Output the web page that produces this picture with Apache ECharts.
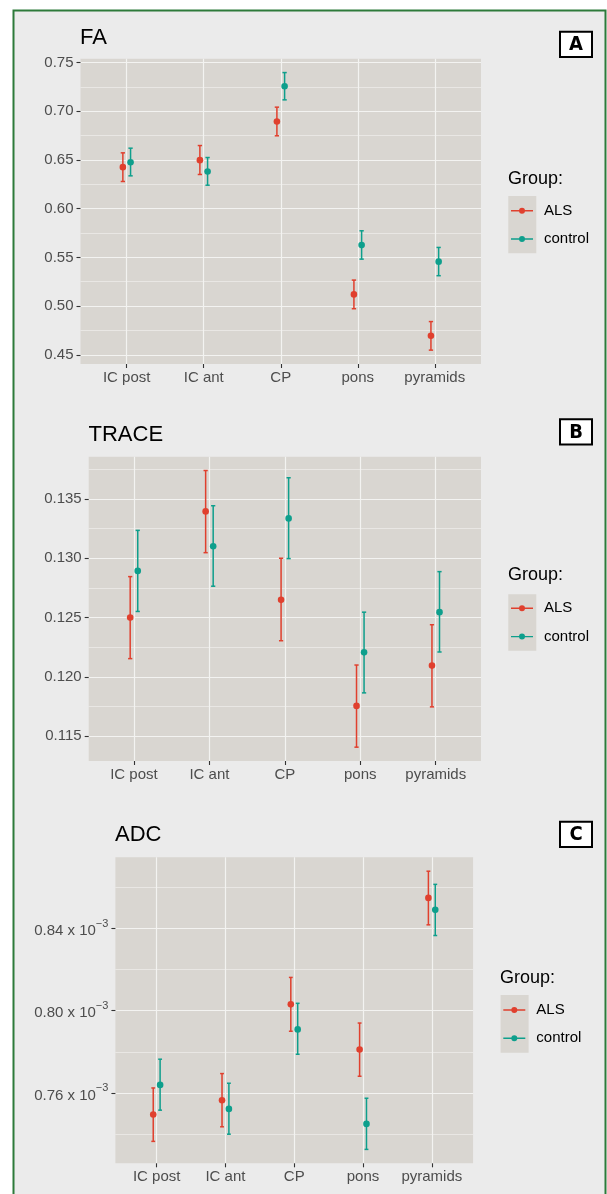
<!DOCTYPE html>
<html><head><meta charset="utf-8">
<script src="https://cdn.jsdelivr.net/npm/echarts@6/dist/echarts.min.js"></script>
<style>html,body{margin:0;padding:0;background:#fff}#c{width:607px;height:1194px}</style>
</head><body><div id="c"></div>
<script>
// ---------- data ----------
const categories = ['IC post', 'IC ant', 'CP', 'pons', 'pyramids'];
const groups = ['ALS', 'control'];

// FA
const faAlsMean  = [0.6426, 0.6498, 0.6895, 0.5120, 0.4695];
const faAlsLow   = [0.6279, 0.6351, 0.6748, 0.4973, 0.4548];
const faAlsHigh  = [0.6573, 0.6648, 0.7042, 0.5267, 0.4841];
const faCtlMean  = [0.6477, 0.6382, 0.7257, 0.5626, 0.5456];
const faCtlLow   = [0.6337, 0.6241, 0.7117, 0.5482, 0.5312];
const faCtlHigh  = [0.6621, 0.6525, 0.7397, 0.5773, 0.5602];

// TRACE
const trAlsMean  = [0.12500, 0.13396, 0.12650, 0.11755, 0.12095];
const trAlsLow   = [0.12154, 0.13048, 0.12305, 0.11407, 0.11747];
const trAlsHigh  = [0.12846, 0.13741, 0.13001, 0.12100, 0.12440];
const trCtlMean  = [0.12894, 0.13102, 0.13337, 0.12207, 0.12546];
const trCtlLow   = [0.12552, 0.12765, 0.12998, 0.11865, 0.12210];
const trCtlHigh  = [0.13236, 0.13444, 0.13680, 0.12546, 0.12888];

// ADC (in units of 10^-3)
const adcAlsMean = [0.7495, 0.7564, 0.8031, 0.7811, 0.8549];
const adcAlsLow  = [0.7364, 0.7435, 0.7900, 0.7681, 0.8418];
const adcAlsHigh = [0.7624, 0.7694, 0.8162, 0.7940, 0.8679];
const adcCtlMean = [0.7639, 0.7522, 0.7909, 0.7449, 0.8491];
const adcCtlLow  = [0.7516, 0.7399, 0.7788, 0.7325, 0.8366];
const adcCtlHigh = [0.7764, 0.7647, 0.8036, 0.7574, 0.8615];

// tick labels
const faTicks  = [0.45, 0.50, 0.55, 0.60, 0.65, 0.70, 0.75];
const faMinor  = [0.475, 0.525, 0.575, 0.625, 0.675, 0.725];
const trTicks  = [0.115, 0.120, 0.125, 0.130, 0.135];
const trMinor  = [0.1175, 0.1225, 0.1275, 0.1325, 0.1375];
const adcTicks = [0.76, 0.80, 0.84];
const adcMinor = [0.74, 0.78, 0.82, 0.86];

// ---------- styles / layout ----------
const COLORS = {ALS: '#e0402e', control: '#0e9f8c'};
const DODGE = 0.05, CAP = 0.028;
const FONT = 'Liberation Sans, Arial, sans-serif';
const PANEL_BG = '#d9d6d1';
const GRIDLINE = '#f3f3f1';

const panels = [
  {title: 'FA', letter: 'A', grid: {left: 80.5, top: 58.7, width: 400.5, height: 305.3},
   titlePos: [80, 26.5], legendPos: [511, 201.7], keyBox: [508.3, 196, 28, 57.3], groupPos: [508, 170], letterBox: [559, 30.7],
   ticks: faTicks, minor: faMinor, fmt: v => v.toFixed(2), rich: false,
   als: [faAlsMean, faAlsLow, faAlsHigh], ctl: [faCtlMean, faCtlLow, faCtlHigh]},
  {title: 'TRACE', letter: 'B', grid: {left: 88.7, top: 456.7, width: 392.3, height: 304.3},
   titlePos: [88.5, 423.5], legendPos: [511, 599.3], keyBox: [508.3, 594.3, 28, 56.4], groupPos: [508, 566], letterBox: [559, 418.3],
   ticks: trTicks, minor: trMinor, fmt: v => v.toFixed(3), rich: false,
   als: [trAlsMean, trAlsLow, trAlsHigh], ctl: [trCtlMean, trCtlLow, trCtlHigh]},
  {title: 'ADC', letter: 'C', grid: {left: 115.4, top: 857.3, width: 357.7, height: 306},
   titlePos: [115, 824], legendPos: [503.3, 1001], keyBox: [500.6, 995, 28, 57.7], groupPos: [500, 969], letterBox: [559, 820.7],
   ticks: adcTicks, minor: adcMinor, fmt: v => '{a|' + v.toFixed(2) + ' x 10}{s|\u22123}', rich: true,
   als: [adcAlsMean, adcAlsLow, adcAlsHigh], ctl: [adcCtlMean, adcCtlLow, adcCtlHigh]}
];

function extent(lows, highs) {
  const lo = Math.min(...lows), hi = Math.max(...highs);
  const pad = (hi - lo) * 0.05;
  return [lo - pad, hi + pad];
}

function renderErr(params, api) {
  const x = api.value(0), m = api.value(1), lo = api.value(2), hi = api.value(3);
  const pT = api.coord([x, hi]), pB = api.coord([x, lo]), pM = api.coord([x, m]);
  const cl = api.coord([x - CAP, hi])[0], cr = api.coord([x + CAP, hi])[0];
  const color = api.visual('color');
  const ls = {stroke: color, lineWidth: 1.5};
  return {type: 'group', children: [
    {type: 'line', shape: {x1: pT[0], y1: pT[1], x2: pB[0], y2: pB[1]}, style: ls},
    {type: 'line', shape: {x1: cl, y1: pT[1], x2: cr, y2: pT[1]}, style: ls},
    {type: 'line', shape: {x1: cl, y1: pB[1], x2: cr, y2: pB[1]}, style: ls},
    {type: 'circle', shape: {cx: pM[0], cy: pM[1], r: 3.3}, style: {fill: color}}
  ]};
}

const LEGEND_ICON = 'path://M0,2.3H22V3.7H0Z M14,3A3,3,0,1,1,8,3A3,3,0,1,1,14,3Z';
const catPos = categories.map((c, i) => i + 1);

const option = {
  animation: false,
  backgroundColor: 'transparent',
  grid: [], xAxis: [], yAxis: [], series: [], title: [], legend: [],
  graphic: [
    {type: 'rect', z: -100, shape: {x: 13.5, y: 10.5, width: 592, height: 1200},
     style: {fill: '#ebebeb', stroke: '#2d7a3a', lineWidth: 2}}
  ]
};

panels.forEach((p, k) => {
  option.grid.push(Object.assign({show: true, backgroundColor: PANEL_BG, borderWidth: 0}, p.grid));
  const allLow = p.als[1].concat(p.ctl[1]), allHigh = p.als[2].concat(p.ctl[2]);
  const [ymin, ymax] = extent(allLow, allHigh);
  option.xAxis.push({
    type: 'value', gridIndex: k, min: 0.4, max: 5.6,
    axisLine: {show: false},
    axisTick: {show: true, customValues: catPos, length: 4, lineStyle: {color: '#333', width: 1.1}},
    axisLabel: {customValues: catPos, margin: 6, fontSize: 15, color: '#4d4d4d', fontFamily: FONT,
      formatter: v => categories[Math.round(v) - 1] || ''},
    splitLine: {show: true, lineStyle: {color: GRIDLINE, width: 1.2}}
  });
  const labelCfg = {customValues: p.ticks, margin: 7, fontSize: 15, color: '#4d4d4d', fontFamily: FONT, formatter: p.fmt};
  if (p.rich) {
    labelCfg.rich = {
      a: {fontSize: 15, color: '#4d4d4d', fontFamily: FONT, lineHeight: 20, verticalAlign: 'bottom'},
      s: {fontSize: 11, color: '#4d4d4d', fontFamily: FONT, lineHeight: 11, verticalAlign: 'top'}
    };
  }
  option.yAxis.push({
    type: 'value', gridIndex: k, min: ymin, max: ymax,
    axisLine: {show: false},
    axisTick: {show: true, customValues: p.ticks, length: 4, lineStyle: {color: '#333', width: 1.1}},
    axisLabel: labelCfg,
    splitLine: {show: true, lineStyle: {color: GRIDLINE, width: 1.2}}
  });
  option.yAxis.push({
    type: 'value', gridIndex: k, min: ymin, max: ymax, position: 'left',
    axisLine: {show: false},
    axisTick: {show: false, customValues: p.minor},
    axisLabel: {show: false, customValues: p.minor},
    splitLine: {show: true, lineStyle: {color: GRIDLINE, width: 0.6}}
  });
  [['ALS', p.als, -DODGE], ['control', p.ctl, DODGE]].forEach(([name, arr, off]) => {
    option.series.push({
      type: 'custom', name, xAxisIndex: k, yAxisIndex: 2 * k,
      itemStyle: {color: COLORS[name]},
      renderItem: renderErr,
      encode: {x: 0, y: [1, 2, 3]},
      data: categories.map((c, i) => [i + 1 + off, arr[0][i], arr[1][i], arr[2][i]])
    });
  });
  option.title.push({text: p.title, left: p.titlePos[0], top: p.titlePos[1], padding: 0,
    textStyle: {fontSize: 22, fontWeight: 'normal', color: '#000', fontFamily: FONT}});
  option.title.push({text: 'Group:', left: p.groupPos[0], top: p.groupPos[1], padding: 0,
    textStyle: {fontSize: 18, fontWeight: 'normal', color: '#000', fontFamily: FONT}});
  option.legend.push({
    orient: 'vertical', left: p.legendPos[0], top: p.legendPos[1], padding: 0,
    itemWidth: 22, itemHeight: 6, itemGap: 10.3, selectedMode: false,
    textStyle: {fontSize: 15, color: '#000', fontFamily: FONT, lineHeight: 18, padding: [0, 0, 0, 6]},
    data: groups.map(g => ({name: g, icon: LEGEND_ICON, itemStyle: {color: COLORS[g]}}))
  });
  option.graphic.push({type: 'rect', z: -50, shape: {x: p.keyBox[0], y: p.keyBox[1], width: p.keyBox[2], height: p.keyBox[3]},
    style: {fill: PANEL_BG}});
  option.graphic.push({type: 'group', left: p.letterBox[0], top: p.letterBox[1], z: 10, children: [
    {type: 'rect', shape: {x: 0, y: 0, width: 32, height: 25.3}, style: {fill: '#fff', stroke: '#000', lineWidth: 2}},
    {type: 'text', x: 16, y: 13, style: {text: p.letter, fill: '#000', fontSize: 20, fontWeight: 'bold',
      fontFamily: 'DejaVu Sans Condensed, Liberation Sans Narrow, sans-serif', align: 'center', verticalAlign: 'middle'}}
  ]});
});

const chart = echarts.init(document.getElementById('c'), null, {renderer: 'canvas'});
chart.setOption(option);
</script>
</body></html>
